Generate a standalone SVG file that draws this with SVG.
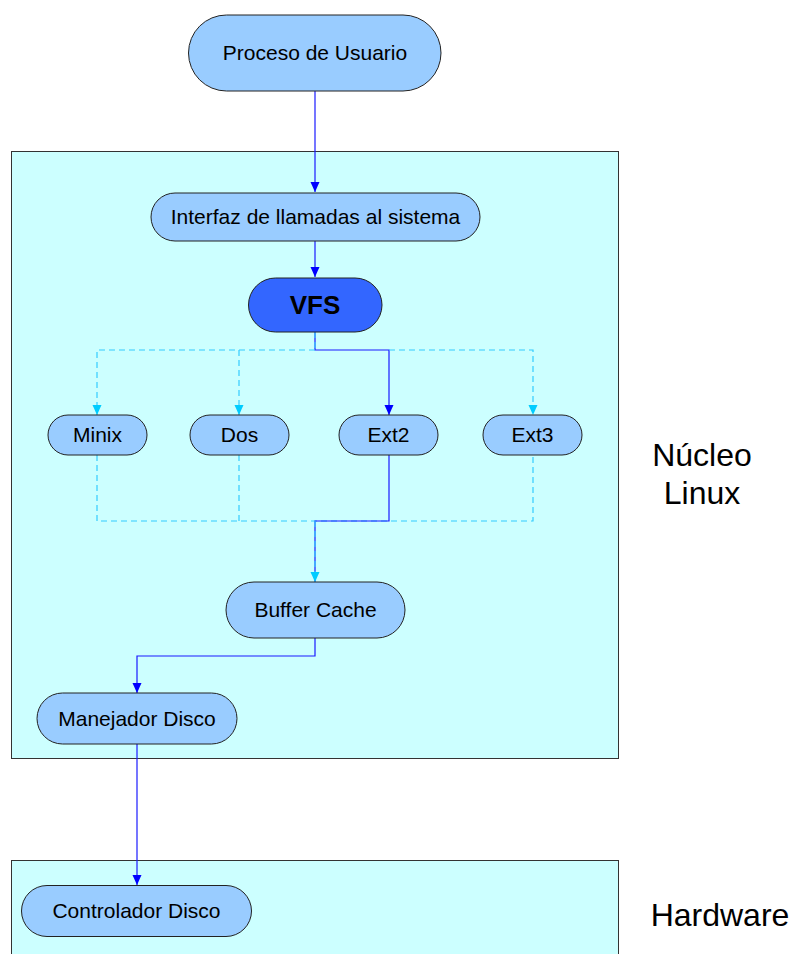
<svg xmlns="http://www.w3.org/2000/svg" width="792" height="954" viewBox="0 0 792 954">
<style>
.box{fill:#CCFFFF;stroke:#333;stroke-width:1}
.node{fill:#99CCFF;stroke:#222;stroke-width:1}
.vfs{fill:#3366FF;stroke:#222;stroke-width:1}
.t{font-family:"Liberation Sans",Arial,sans-serif;font-size:21px;fill:#000;text-anchor:middle}
.big{font-family:"Liberation Sans",Arial,sans-serif;font-size:32px;fill:#000;text-anchor:middle}
.solid{fill:none;stroke:#1a1aff;stroke-width:1.2}
.dash{fill:none;stroke:#33CCFF;stroke-width:1.2;stroke-dasharray:6,4}
</style>
<defs>
<marker id="ab" viewBox="0 0 10 10" refX="10" refY="5" markerWidth="10" markerHeight="10" markerUnits="userSpaceOnUse" orient="auto"><path d="M0,0.5 L10,5 L0,9.5 Z" fill="#0000FF"/></marker>
<marker id="ac" viewBox="0 0 10 10" refX="10" refY="5" markerWidth="10" markerHeight="10" markerUnits="userSpaceOnUse" orient="auto"><path d="M0,0.5 L10,5 L0,9.5 Z" fill="#00CCFF"/></marker>
</defs>
<rect width="792" height="954" fill="#fff"/>
<g id="nucleo-box"><rect class="box" x="11.5" y="151.5" width="607" height="607"/></g>
<g id="hardware-box"><rect class="box" x="11.5" y="860.5" width="607" height="110"/></g>
<g id="connectors">
<path class="solid" d="M315,91 V192" marker-end="url(#ab)"/>
<path class="solid" d="M315,241 V277" marker-end="url(#ab)"/>
<path class="solid" d="M315,332 V350 H389 V415" marker-end="url(#ab)"/>
<path class="dash" d="M315,332 V350"/>
<path class="dash" d="M315,350 H97 V415" marker-end="url(#ac)"/>
<path class="dash" d="M239,350 V415" marker-end="url(#ac)"/>
<path class="dash" d="M389,350 H533 V415" marker-end="url(#ac)"/>
<path class="dash" d="M97,455 V521 H533 V455"/>
<path class="dash" d="M239,455 V521"/>
<path class="solid" d="M389,455 V521 H315 V582"/>
<path class="dash" d="M315,521 V582" marker-end="url(#ac)"/>
<path class="solid" d="M315,638 V656 H137 V693" marker-end="url(#ab)"/>
<path class="solid" d="M137,744 V885" marker-end="url(#ab)"/>
</g>
<g id="proceso"><rect class="node" x="188.5" y="15" width="252.5" height="76" rx="38"/><text class="t" x="315" y="60">Proceso de Usuario</text></g>
<g id="interfaz"><rect class="node" x="151" y="193" width="329" height="48" rx="24"/><text class="t" x="315.5" y="224">Interfaz de llamadas al sistema</text></g>
<g id="vfs"><rect class="vfs" x="248.5" y="278" width="133.5" height="54" rx="27"/><text class="t" x="315" y="314" style="font-size:26px;font-weight:bold">VFS</text></g>
<g id="minix"><rect class="node" x="48" y="415" width="99" height="40" rx="20"/><text class="t" x="97.5" y="442">Minix</text></g>
<g id="dos"><rect class="node" x="190" y="415" width="99" height="40" rx="20"/><text class="t" x="239.5" y="442">Dos</text></g>
<g id="ext2"><rect class="node" x="339" y="415" width="99" height="40" rx="20"/><text class="t" x="388.5" y="442">Ext2</text></g>
<g id="ext3"><rect class="node" x="483" y="415" width="99" height="40" rx="20"/><text class="t" x="532.5" y="442">Ext3</text></g>
<g id="buffer"><rect class="node" x="226" y="582" width="179" height="56" rx="28"/><text class="t" x="315.5" y="617">Buffer Cache</text></g>
<g id="manejador"><rect class="node" x="37" y="693" width="200" height="51" rx="25.5"/><text class="t" x="137" y="726">Manejador Disco</text></g>
<g id="controlador"><rect class="node" x="21.5" y="885.5" width="230" height="51" rx="25.5"/><text class="t" x="136.5" y="918">Controlador Disco</text></g>
<g id="labels">
<text class="big" x="702" y="466">Núcleo</text>
<text class="big" x="702" y="504">Linux</text>
<text class="big" x="720" y="926">Hardware</text>
</g>
</svg>
